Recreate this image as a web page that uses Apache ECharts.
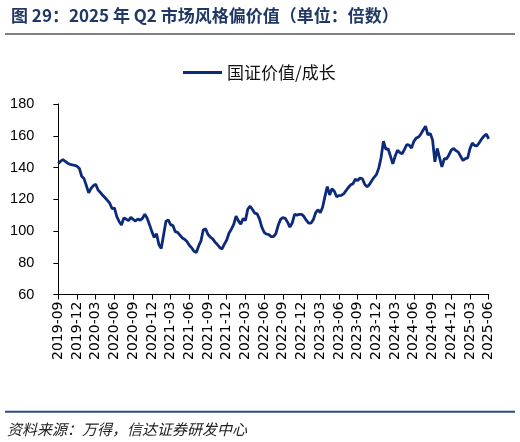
<!DOCTYPE html>
<html>
<head>
<meta charset="utf-8">
<script src="https://cdn.jsdelivr.net/npm/echarts@6/dist/echarts.min.js"></script>
<style>
html,body{margin:0;padding:0;background:#fff;}
#chart{width:520px;height:442px;}
</style>
</head>
<body>
<div id="chart"></div>
<script>
// Quarter tick labels (x axis)
var tickLabels = ['2019-09','2019-12','2020-03','2020-06','2020-09','2020-12','2021-03','2021-06','2021-09','2021-12','2022-03','2022-06','2022-09','2022-12','2023-03','2023-06','2023-09','2023-12','2024-03','2024-06','2024-09','2024-12','2025-03','2025-06'];
// Readings per quarter (8 readings between consecutive quarter ticks)
var stepsPerQuarter = 8;
// 国证价值/成长 ratio
var valueGrowth = [
  142.5,144,145,143.8,142.7,142,141.6,141.3,140.8,139.4,
  134.5,133,128.6,124,126.8,128.6,129.5,125.8,124.3,122.5,
  120.9,119.3,117.5,114,114.5,109,106,103.8,108.2,107.5,
  106.5,108.6,107.3,106.3,107.6,106.8,108,110.6,108,104,
  99.6,96,98.3,91.5,89,97.5,106,107,104,103.4,
  99.6,99.1,97.4,95.6,94.8,93.4,91,89.4,87.2,86.5,
  90.6,93.8,100.8,101.3,97.8,96.2,95.1,93,91.5,89.6,
  88.7,91.7,94.3,98.7,101.2,104.2,109.3,106.4,104.3,107.8,
  106.7,113.8,115.6,113.5,111.2,110.8,107.6,102.4,99.2,98.1,
  97.7,96.5,96.4,98.3,103.6,107.3,108.4,108,105.6,102.5,
  105,110.5,110,110.5,110.5,109.2,106.8,105,105,107,
  111.4,113.4,111.5,115,121.8,128,122.7,126.6,125,121.6,
  122.3,122.5,123.4,125.4,127.4,129.1,129.8,132.6,131.8,133.4,
  132.9,129.4,127.8,129.3,131.6,133.8,135.5,139.6,146.3,156.6,
  151.6,151.8,147.2,142.3,147.1,150.9,149.4,148.6,151.4,154.5,
  154.1,152.2,156.5,158.5,159.2,161,163.6,166,160.5,161.5,
  157.4,143.6,152,146.1,140.4,145.5,145.5,147.9,151,152,
  150.6,149.7,147.1,144.4,145.6,146,151.9,155.4,153.8,153.7,
  155.7,158,159.8,161,158
];
var seriesName = '国证价值/成长';
var titleText = '图 29：2025 年 Q2 市场风格偏价值（单位：倍数）';
var sourceText = '资料来源：万得，信达证券研发中心';

var categories = valueGrowth.map(function (v, i) {
  var q = Math.floor(i / stepsPerQuarter), j = i % stepsPerQuarter;
  return j === 0 ? tickLabels[q] : tickLabels[q] + '#' + j;
});

var chart = echarts.init(document.getElementById('chart'), null, {renderer: 'canvas'});
chart.setOption({
  animation: false,
  backgroundColor: '#fff',
  title: {
    text: titleText,
    left: 6, top: 2,
    textStyle: {fontFamily: 'Noto Sans CJK SC', fontSize: 17, fontWeight: 'bold', color: '#1f3864'}
  },
  legend: {
    data: [{name: seriesName, icon: 'rect'}],
    left: 178, top: 59,
    itemWidth: 39, itemHeight: 3,
    textStyle: {fontFamily: 'Noto Sans CJK SC', fontSize: 17, color: '#111'}
  },
  grid: {left: 58.3, right: 31.3, top: 104, bottom: 147.5, containLabel: false},
  xAxis: {
    type: 'category',
    data: categories,
    boundaryGap: false,
    axisLine: {lineStyle: {color: '#000', width: 1}},
    axisTick: {show: true, interval: stepsPerQuarter - 1, length: 5, lineStyle: {color: '#000'}},
    axisLabel: {interval: stepsPerQuarter - 1, rotate: 90, margin: 7, fontFamily: 'DejaVu Sans', fontSize: 14, color: '#000'},
    splitLine: {show: false}
  },
  yAxis: {
    type: 'value',
    min: 60, max: 180, interval: 20,
    axisLine: {show: true, lineStyle: {color: '#000', width: 1}},
    axisTick: {show: true, length: 5, lineStyle: {color: '#000'}},
    axisLabel: {margin: 24, fontFamily: 'Liberation Sans', fontSize: 14.5, color: '#000'},
    splitLine: {show: false}
  },
  series: [{
    name: seriesName,
    type: 'line',
    data: valueGrowth,
    symbol: 'none',
    lineStyle: {color: '#0c2a7a', width: 2.8},
    itemStyle: {color: '#0c2a7a'}
  }],
  graphic: [
    {type: 'line', shape: {x1: 5, y1: 34, x2: 515, y2: 34}, style: {stroke: '#000', lineWidth: 1}},
    {type: 'line', shape: {x1: 5, y1: 411.7, x2: 515, y2: 411.7}, style: {stroke: '#2e4a7e', lineWidth: 2}},
    {type: 'text', x: 7, y: 429, style: {text: sourceText, fontFamily: 'Noto Sans CJK SC', fontSize: 15, fontStyle: 'italic', fill: '#222', verticalAlign: 'middle'}}
  ]
});
</script>
</body>
</html>
